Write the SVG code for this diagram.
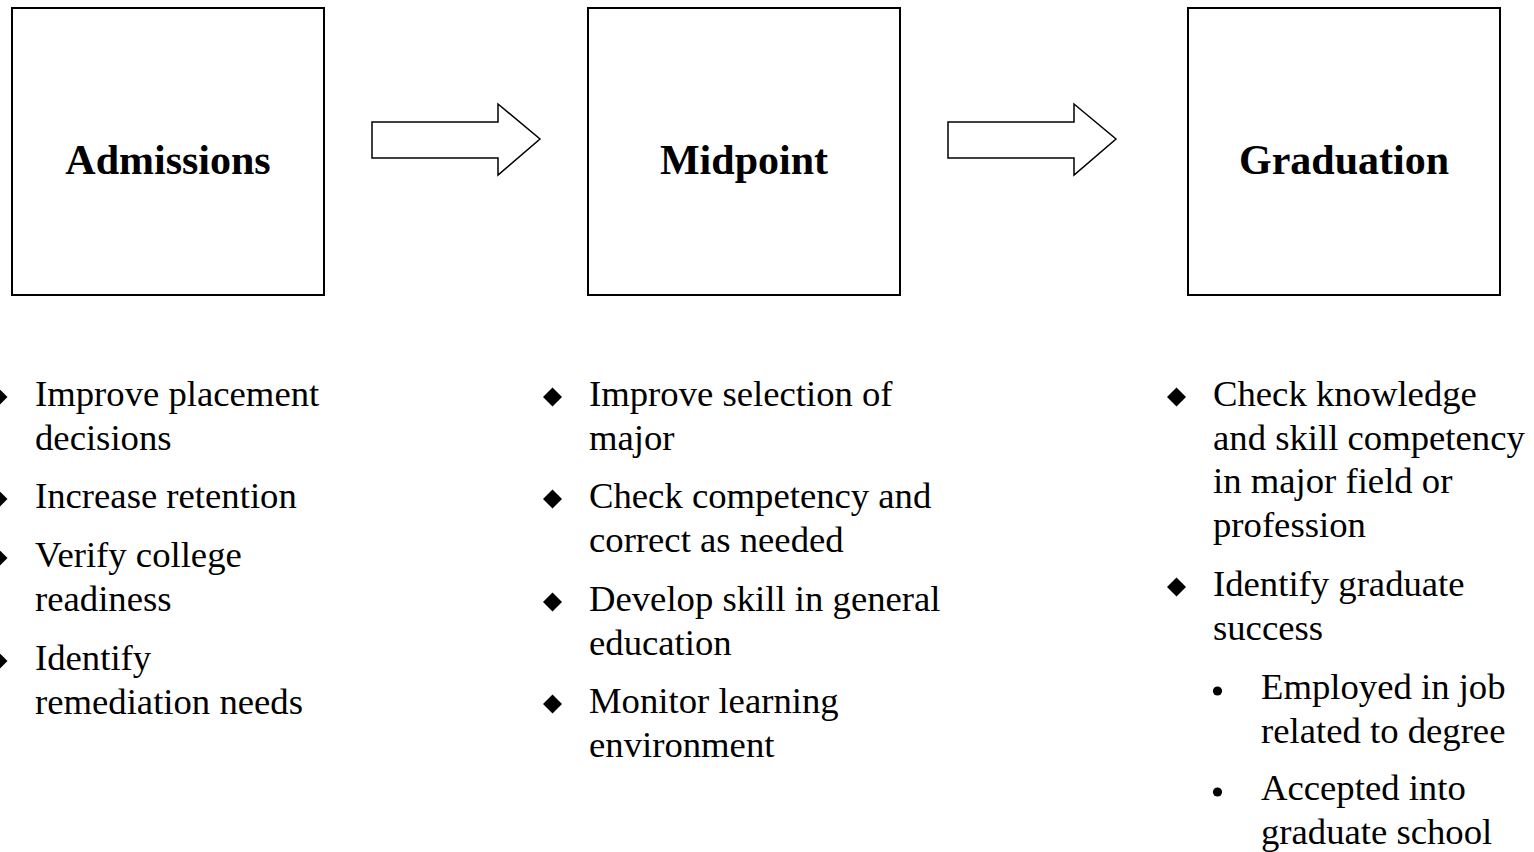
<svg xmlns="http://www.w3.org/2000/svg" width="1534" height="852" viewBox="0 0 1534 852">
<style>
.box{fill:#fff;stroke:#000;stroke-width:2}
.arr{fill:#fff;stroke:#000;stroke-width:1.5;stroke-linejoin:miter}
.h{font-family:"Liberation Serif","Times New Roman",serif;font-weight:bold;font-size:42px;text-anchor:middle;fill:#000}
.t{font-family:"Liberation Serif","Times New Roman",serif;font-size:36.7px;fill:#000}
.d{fill:#000}
</style>
<defs>
<path id="dia" d="M0,-9.5 L9.5,0 L0,9.5 L-9.5,0 Z"/>
</defs>
<rect width="1534" height="852" fill="#fff"/>
<g id="admissions">
<rect class="box" x="12" y="8" width="312" height="287"/>
<text class="h" x="168" y="174">Admissions</text>
</g>
<g id="midpoint">
<rect class="box" x="588" y="8" width="312" height="287"/>
<text class="h" x="744" y="174">Midpoint</text>
</g>
<g id="graduation">
<rect class="box" x="1188" y="8" width="312" height="287"/>
<text class="h" x="1344" y="174">Graduation</text>
</g>
<g id="connectors">
<path class="arr" d="M372,122 L498,122 L498,104 L540,139 L498,175 L498,158 L372,158 Z"/>
<path class="arr" d="M948,122 L1074,122 L1074,104 L1116,139 L1074,175 L1074,158 L948,158 Z"/>
</g>
<g id="admissions-list">
<use href="#dia" class="d" x="-2" y="397"/>
<text class="t" x="35" y="406">Improve placement</text>
<text class="t" x="35" y="449.5">decisions</text>
<use href="#dia" class="d" x="-2" y="499"/>
<text class="t" x="35" y="508">Increase retention</text>
<use href="#dia" class="d" x="-2" y="558"/>
<text class="t" x="35" y="567">Verify college</text>
<text class="t" x="35" y="610.5">readiness</text>
<use href="#dia" class="d" x="-2" y="661"/>
<text class="t" x="35" y="670">Identify</text>
<text class="t" x="35" y="713.5">remediation needs</text>
</g>
<g id="midpoint-list">
<use href="#dia" class="d" x="552.5" y="397"/>
<text class="t" x="589" y="406">Improve selection of</text>
<text class="t" x="589" y="449.5">major</text>
<use href="#dia" class="d" x="552.5" y="499"/>
<text class="t" x="589" y="508">Check competency and</text>
<text class="t" x="589" y="551.5">correct as needed</text>
<use href="#dia" class="d" x="552.5" y="602"/>
<text class="t" x="589" y="611">Develop skill in general</text>
<text class="t" x="589" y="654.5">education</text>
<use href="#dia" class="d" x="552.5" y="704"/>
<text class="t" x="589" y="713">Monitor learning</text>
<text class="t" x="589" y="756.5">environment</text>
</g>
<g id="graduation-list">
<use href="#dia" class="d" x="1176.5" y="397"/>
<text class="t" x="1213" y="406">Check knowledge</text>
<text class="t" x="1213" y="449.5">and skill competency</text>
<text class="t" x="1213" y="493">in major field or</text>
<text class="t" x="1213" y="536.5">profession</text>
<use href="#dia" class="d" x="1176.5" y="587"/>
<text class="t" x="1213" y="596">Identify graduate</text>
<text class="t" x="1213" y="639.5">success</text>
<circle class="d" cx="1217.5" cy="691" r="4.6"/>
<text class="t" x="1261" y="699">Employed in job</text>
<text class="t" x="1261" y="742.5">related to degree</text>
<circle class="d" cx="1217.5" cy="792" r="4.6"/>
<text class="t" x="1261" y="800">Accepted into</text>
<text class="t" x="1261" y="843.5">graduate school</text>
</g>
</svg>
